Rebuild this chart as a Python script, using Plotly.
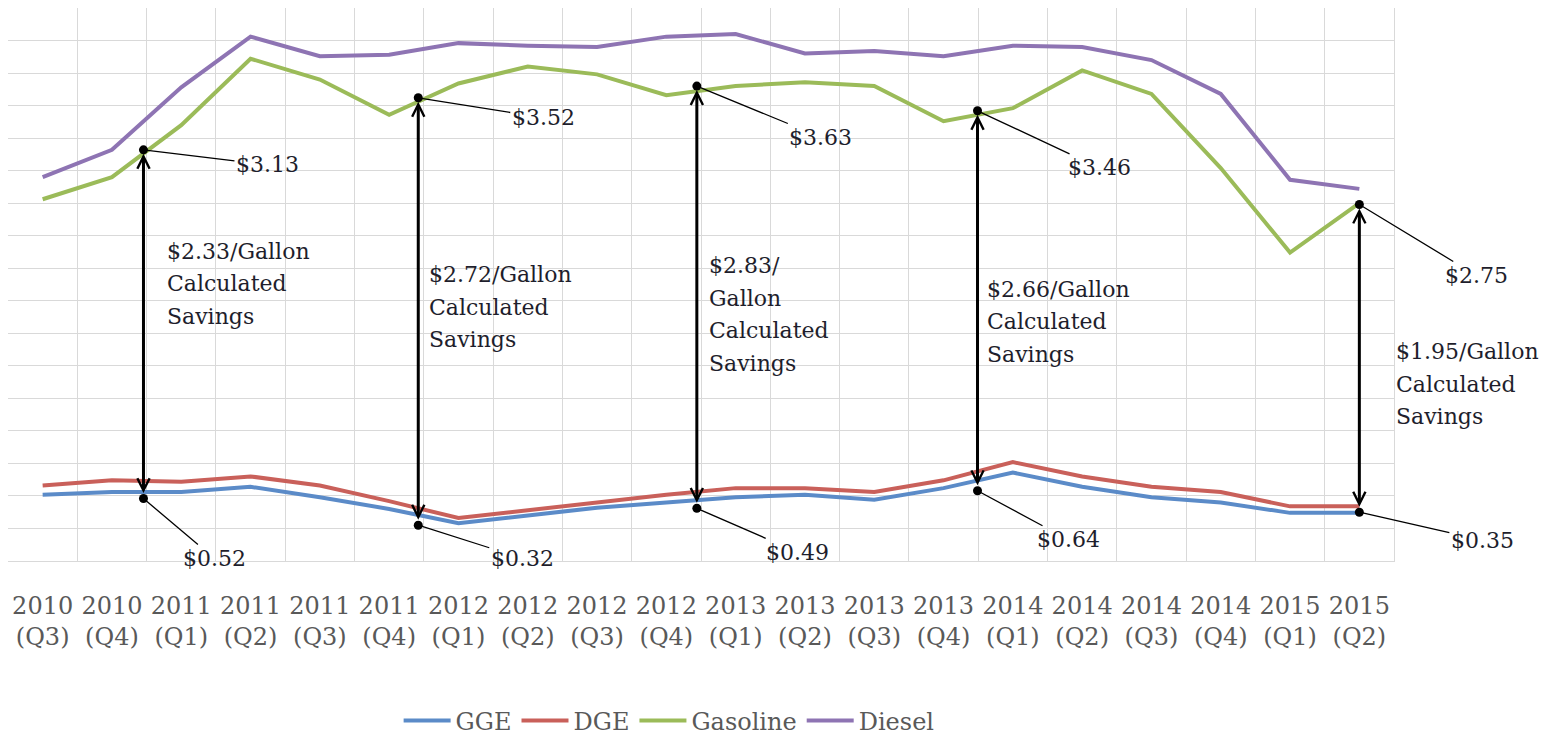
import plotly.graph_objects as go

categories = ["2010<br>(Q3)", "2010<br>(Q4)", "2011<br>(Q1)", "2011<br>(Q2)", "2011<br>(Q3)",
              "2011<br>(Q4)", "2012<br>(Q1)", "2012<br>(Q2)", "2012<br>(Q3)", "2012<br>(Q4)",
              "2013<br>(Q1)", "2013<br>(Q2)", "2013<br>(Q3)", "2013<br>(Q4)", "2014<br>(Q1)",
              "2014<br>(Q2)", "2014<br>(Q3)", "2014<br>(Q4)", "2015<br>(Q1)", "2015<br>(Q2)"]

gge = [0.51, 0.53, 0.53, 0.57, 0.49, 0.40, 0.29, 0.35, 0.41, 0.45,
       0.49, 0.51, 0.47, 0.56, 0.68, 0.57, 0.49, 0.45, 0.37, 0.37]
dge = [0.58, 0.62, 0.61, 0.65, 0.58, 0.46, 0.33, 0.39, 0.45, 0.51,
       0.56, 0.56, 0.53, 0.62, 0.76, 0.65, 0.57, 0.53, 0.42, 0.42]
gasoline = [2.78, 2.95, 3.35, 3.86, 3.70, 3.43, 3.67, 3.80, 3.74, 3.58,
            3.65, 3.68, 3.65, 3.38, 3.48, 3.77, 3.59, 3.02, 2.37, 2.75]
diesel = [2.95, 3.16, 3.64, 4.03, 3.88, 3.89, 3.98, 3.96, 3.95, 4.03,
          4.05, 3.90, 3.92, 3.88, 3.96, 3.95, 3.85, 3.59, 2.93, 2.86]

# hand-drawn callouts
arrow_x = [1.455, 5.42, 9.44, 13.49, 19.0]
arrow_top = [3.16, 3.56, 3.65, 3.46, 2.74]
arrow_bottom = [0.48, 0.275, 0.405, 0.54, 0.375]
top_labels = ["$3.13", "$3.52", "$3.63", "$3.46", "$2.75"]
bottom_labels = ["$0.52", "$0.32", "$0.49", "$0.64", "$0.35"]
savings_labels = [["$2.33/Gallon", "Calculated", "Savings"],
                  ["$2.72/Gallon", "Calculated", "Savings"],
                  ["$2.83/", "Gallon", "Calculated", "Savings"],
                  ["$2.66/Gallon", "Calculated", "Savings"],
                  ["$1.95/Gallon", "Calculated", "Savings"]]

# layout offsets for callout text (pixels)
top_offsets = [(124, 15), (125, 20), (124, 51), (122, 57), (117, 71)]
bottom_offsets = [(71, 60), (104, 33), (101, 44), (91, 49), (123, 28)]
savings_pos = [(22, 2.38), (9, 2.2), (10, 2.27), (7, 2.09), (35, 1.61)]

series = [("GGE", gge, "#5B8BC8"), ("DGE", dge, "#C9605A"),
          ("Gasoline", gasoline, "#9BBB59"), ("Diesel", diesel, "#8E74B3")]

FONT = "DejaVu Serif"
TXT = "#1E1E2C"

fig = go.Figure()
xs = list(range(len(categories)))
for name, vals, col in series:
    fig.add_trace(go.Scatter(x=xs, y=vals, name=name, mode="lines",
                             line=dict(color=col, width=4)))

fig.add_trace(go.Scatter(x=arrow_x + arrow_x, y=arrow_top + arrow_bottom, mode="markers",
                         marker=dict(color="black", size=9), showlegend=False,
                         hoverinfo="skip"))

annotations = []
for i in range(len(arrow_x)):
    annotations.append(dict(x=arrow_x[i], y=arrow_top[i], ax=arrow_x[i], ay=arrow_bottom[i],
                            xref="x", yref="y", axref="x", ayref="y", text="",
                            showarrow=True, arrowside="end+start", arrowhead=5,
                            startarrowhead=5, arrowwidth=3, arrowsize=0.8,
                            startarrowsize=0.8, arrowcolor="black",
                            standoff=4, startstandoff=4))
    annotations.append(dict(x=arrow_x[i], y=arrow_top[i], xref="x", yref="y",
                            ax=top_offsets[i][0], ay=top_offsets[i][1],
                            text=top_labels[i], showarrow=True, arrowhead=0,
                            arrowwidth=1.3, arrowcolor="black",
                            font=dict(family=FONT, size=22, color=TXT)))
    annotations.append(dict(x=arrow_x[i], y=arrow_bottom[i], xref="x", yref="y",
                            ax=bottom_offsets[i][0], ay=bottom_offsets[i][1],
                            text=bottom_labels[i], showarrow=True, arrowhead=0,
                            arrowwidth=1.3, arrowcolor="black",
                            font=dict(family=FONT, size=22, color=TXT)))
    for j, line in enumerate(savings_labels[i]):
        annotations.append(dict(x=arrow_x[i], y=savings_pos[i][1], xref="x", yref="y",
                                xanchor="left", yanchor="middle",
                                xshift=savings_pos[i][0], yshift=-32.5 * j,
                                text=line, showarrow=False,
                                font=dict(family=FONT, size=22, color=TXT)))

fig.update_layout(
    width=1543, height=728,
    margin=dict(l=0, r=157, t=0, b=175, autoexpand=False),
    paper_bgcolor="white", plot_bgcolor="white",
    showlegend=True,
    legend=dict(orientation="h", x=0.477, xanchor="center", y=-0.289, yanchor="middle",
                itemwidth=47,
                font=dict(family=FONT, size=24, color="#595959")),
    annotations=annotations,
)
fig.update_xaxes(range=[-0.5, 19.5], tickmode="array", tickvals=xs, ticktext=categories,
                 showgrid=False, zeroline=False, ticks="",
                 tickfont=dict(family=FONT, size=24, color="#595959"),
                 ticklabelstandoff=23,
                 minor=dict(tick0=-0.5, dtick=1, showgrid=True, gridcolor="#D9D9D9",
                            gridwidth=1),
                 showline=True, linecolor="#D9D9D9", mirror=True)
fig.update_yaxes(range=[0, 4.25], dtick=0.25, showticklabels=False, showgrid=True,
                 gridcolor="#D9D9D9", zeroline=False, ticks="",
                 showline=True, linecolor="#D9D9D9", mirror=True)

fig.write_html("out.html")
